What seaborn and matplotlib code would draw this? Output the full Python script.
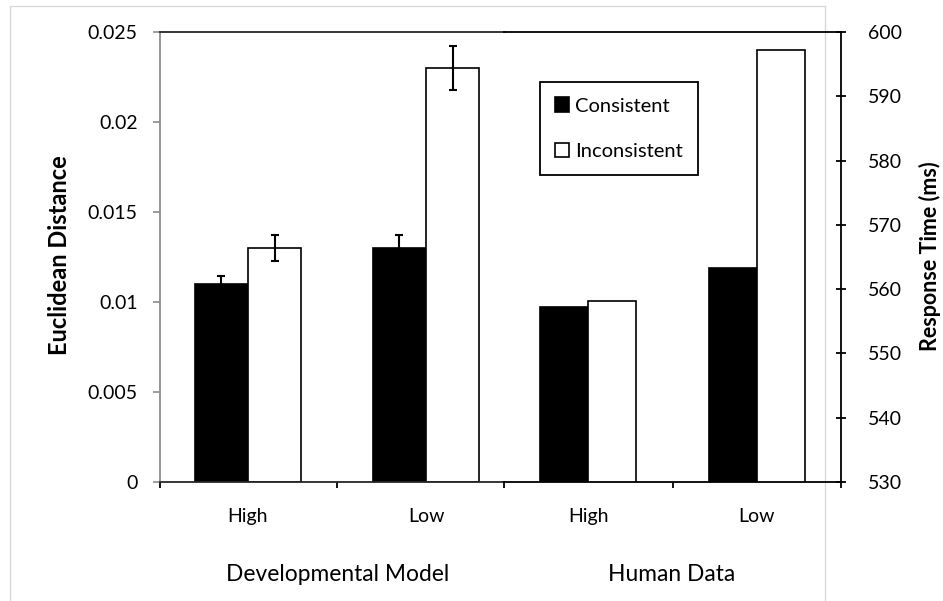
import matplotlib.pyplot as plt
import pandas as pd
import seaborn as sns
from matplotlib.lines import Line2D

# --- DATA ---
conditions = ["High", "Low"]
series = ["Consistent", "Inconsistent"]

model_consistent = [0.0110, 0.0130]
model_inconsistent = [0.0130, 0.0230]
model_consistent_err = [0.00045, 0.0007]
model_inconsistent_err = [0.0007, 0.0012]

human_consistent = [557.2, 563.3]
human_inconsistent = [558.1, 597.2]

left_ticks = [0, 0.005, 0.01, 0.015, 0.02, 0.025]
left_ticklabels = ["0", "0.005", "0.01", "0.015", "0.02", "0.025"]
right_ticks = [530, 540, 550, 560, 570, 580, 590, 600]


def to_long(consistent, inconsistent):
    return pd.DataFrame({
        "condition": conditions * 2,
        "series": [series[0]] * 2 + [series[1]] * 2,
        "value": consistent + inconsistent,
    })


sns.set_style("white")
plt.rcParams["font.family"] = ["Lato", "DejaVu Sans"]
plt.rcParams["text.color"] = "black"
plt.rcParams["axes.labelcolor"] = "black"
plt.rcParams["xtick.color"] = "black"
plt.rcParams["ytick.color"] = "black"

W, H = 943, 601
fig = plt.figure(figsize=(W / 100, H / 100), dpi=100)

# light grey frame around the chart area
frame_kw = dict(transform=fig.transFigure, color="#d6d6d6", lw=0.9, zorder=-1)
fig.add_artist(Line2D([10 / W, 10 / W], [0, 1 - 6 / H], **frame_kw))
fig.add_artist(Line2D([10 / W, 825 / W], [1 - 6 / H, 1 - 6 / H], **frame_kw))
fig.add_artist(Line2D([825 / W, 825 / W], [0, 1 - 6 / H], **frame_kw))

bottom = (H - 482) / H
height = 450 / H
ax1 = fig.add_axes([160 / W, bottom, 344 / W, height])
ax2 = fig.add_axes([504 / W, bottom, 337 / W, height])
for ax in (ax1, ax2):
    ax.set_facecolor("none")

bar_kw = dict(x="condition", y="value", hue="series", order=conditions,
              hue_order=series, palette=["black", "white"], edgecolor="black",
              linewidth=1.2, errorbar=None, legend=False)

sns.barplot(data=to_long(model_consistent, model_inconsistent), width=0.6, ax=ax1, **bar_kw)
sns.barplot(data=to_long(human_consistent, human_inconsistent), width=0.57, ax=ax2, **bar_kw)

# error bars on the model bars
for container, errs in zip(ax1.containers, [model_consistent_err, model_inconsistent_err]):
    xs = [p.get_x() + p.get_width() / 2 for p in container]
    ys = [p.get_height() for p in container]
    ax1.errorbar(xs, ys, yerr=errs, fmt="none", ecolor="black",
                 elinewidth=1.5, capsize=3, capthick=1.5, zorder=5)

# --- left axes (model) ---
ax1.set_xlim(-0.494, 1.438)
ax1.set_ylim(0, 0.025)
ax1.set_yticks(left_ticks)
ax1.set_yticklabels(left_ticklabels)
ax1.set_xticks([0, 1])
ax1.set_xticklabels(conditions)
ax1.set_xticks([-0.494, 0.5], minor=True)
ax1.set_xlabel("")
ax1.set_ylabel("")
ax1.spines["right"].set_visible(False)
ax1.spines["left"].set_color("#8c8c8c")
for s in ("left", "top", "bottom"):
    ax1.spines[s].set_linewidth(1.3)
ax1.tick_params(axis="y", direction="out", length=5, width=1.2, color="#8c8c8c",
                labelcolor="black", pad=11, labelsize=14, left=True)
ax1.tick_params(axis="x", which="major", length=0, pad=19, labelsize=14, bottom=True)
ax1.tick_params(axis="x", which="minor", direction="out", length=4.5, width=1.3,
                color="black", bottom=True)

# --- right axes (human) ---
ax2.set_xlim(-0.5, 1.5)
ax2.set_ylim(530, 600)
ax2.set_yticks(right_ticks)
ax2.yaxis.tick_right()
ax2.set_xticks([0, 1])
ax2.set_xticklabels(conditions)
ax2.set_xticks([-0.5, 0.5, 1.5], minor=True)
ax2.set_xlabel("")
ax2.set_ylabel("")
ax2.spines["left"].set_visible(False)
for s in ("right", "top", "bottom"):
    ax2.spines[s].set_linewidth(1.3)
    ax2.spines[s].set_color("black")
ax2.tick_params(axis="y", direction="inout", length=7, width=1.3, color="black",
                pad=16, labelsize=14, right=True, left=False)
ax2.tick_params(axis="x", which="major", length=0, pad=19, labelsize=14, bottom=True)
ax2.tick_params(axis="x", which="minor", direction="out", length=4.5, width=1.3,
                color="black", bottom=True)

# axis titles
fig.text(60 / W, 1 - 255 / H, "Euclidean Distance", rotation=90, ha="center",
         va="center", fontsize=17, fontweight="bold")
fig.text(930 / W, 1 - 256 / H, "Response Time (ms)", rotation=90, ha="center",
         va="center", fontsize=15.5, fontweight="bold")

# group captions under the axis
fig.text(338 / W, 1 - 581 / H, "Developmental Model", ha="center", va="baseline", fontsize=16.4)
fig.text(672 / W, 1 - 581 / H, "Human Data", ha="center", va="baseline", fontsize=16.4)

handles = [c.patches[0] for c in ax2.containers]
leg = ax2.legend(handles, series, loc="upper left",
                 bbox_to_anchor=(540 / W, 1 - 82 / H), bbox_transform=fig.transFigure,
                 frameon=True, fancybox=False, edgecolor="black", framealpha=1,
                 handlelength=0.7, handleheight=0.75, handletextpad=0.3,
                 labelspacing=1.4, borderpad=0.75, borderaxespad=0, fontsize=14.5)
leg.get_frame().set_linewidth(1.3)

fig.savefig("out.png", dpi=100)
